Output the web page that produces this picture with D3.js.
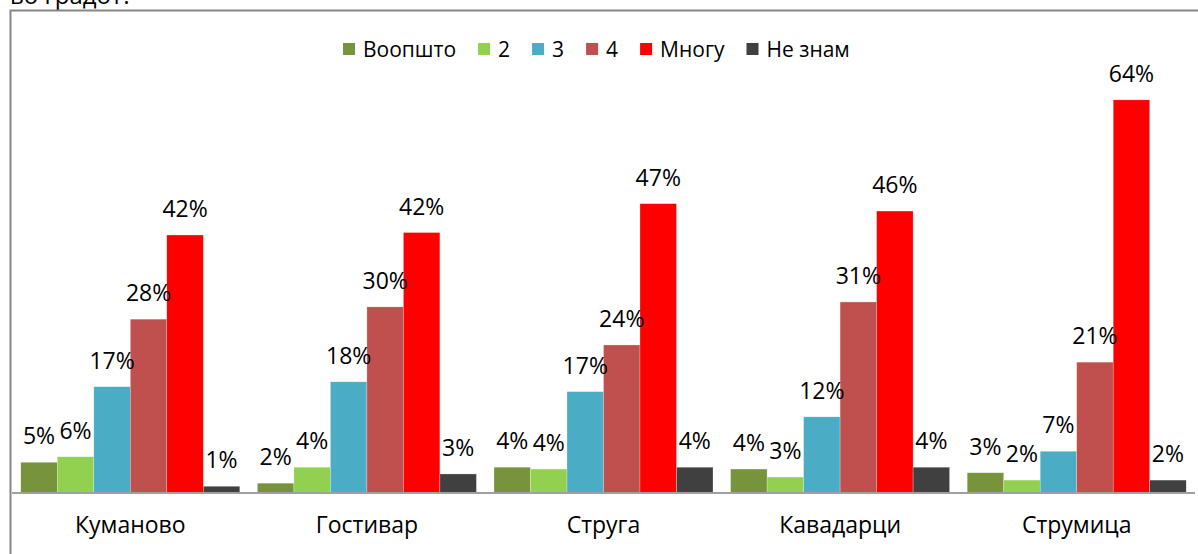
<!DOCTYPE html>
<html>
<head>
<meta charset="utf-8">
<script src="https://cdn.jsdelivr.net/npm/d3@7"></script>
<style>
  body { margin: 0; background: #fff; }
  svg { display: block; font-family: "Open Sans", "Noto Sans", sans-serif; }
</style>
</head>
<body>
<div id="graph"></div>
<script>
const width = 1198, height = 554;

const cities = ["Куманово", "Гостивар", "Струга", "Кавадарци", "Струмица"];
const seriesNames = ["Воопшто", "2", "3", "4", "Многу", "Не знам"];
const colors = ["#77933C", "#92D050", "#4BACC6", "#C0504D", "#FF0000", "#404040"];

// values per series, in order of cities (%)
const vVoopsto = [5.0, 1.6, 4.2, 3.9, 3.3];
const vTwo = [5.9, 4.2, 3.9, 2.6, 2.1];
const vThree = [17.3, 18.1, 16.5, 12.4, 6.8];
const vFour = [28.3, 30.3, 24.1, 31.1, 21.3];
const vMnogu = [42.0, 42.4, 47.1, 45.9, 64.0];
const vNeZnam = [1.1, 3.1, 4.2, 4.2, 2.1];

const seriesValues = [vVoopsto, vTwo, vThree, vFour, vMnogu, vNeZnam];

const plotLeft = 12, plotRight = 1195, baseY = 493, topY = 63;

let svg = d3.select("#graph").append("svg")
  .attr("width", width)
  .attr("height", height);

// title (its last line is cut off at the top, as in the source)
svg.append("text")
  .attr("x", 10)
  .attr("y", 4)
  .attr("font-size", 24)
  .attr("fill", "#000")
  .text("во градот?");

// chart frame
svg.append("path")
  .attr("d", "M10.5," + height + " V10.5 H" + width)
  .attr("fill", "none")
  .attr("stroke", "#868686")
  .attr("stroke-width", 2);

const x0 = d3.scaleBand()
  .domain(cities)
  .range([plotLeft, plotRight])
  .paddingInner(0.0744)
  .paddingOuter(0.0372);

const x1 = d3.scaleBand()
  .domain(seriesNames)
  .range([0, x0.bandwidth()]);

const y = d3.scaleLinear()
  .domain([0, 70])
  .range([baseY, topY]);

const rows = [];
cities.forEach((c, ci) => {
  seriesNames.forEach((s, si) => {
    rows.push({city: c, series: s, value: seriesValues[si][ci], color: colors[si]});
  });
});

svg.selectAll("rect.bar")
  .data(rows)
  .enter()
  .append("rect")
  .attr("class", "bar")
  .attr("x", d => x0(d.city) + x1(d.series))
  .attr("y", d => y(d.value))
  .attr("width", x1.bandwidth())
  .attr("height", d => baseY - y(d.value))
  .attr("fill", d => d.color)
  .attr("stroke", "#ffffff")
  .attr("stroke-opacity", 0.5)
  .attr("stroke-width", 0.5);

svg.selectAll("text.lbl")
  .data(rows)
  .enter()
  .append("text")
  .attr("class", "lbl")
  .attr("x", d => x0(d.city) + x1(d.series) + x1.bandwidth() / 2)
  .attr("y", d => y(d.value) - 18)
  .attr("text-anchor", "middle")
  .attr("font-size", 23)
  .attr("fill", "#000")
  .text(d => Math.round(d.value) + "%");

// category axis
const xAxis = d3.axisBottom(x0).tickSize(0).tickPadding(19);
const gx = svg.append("g")
  .attr("transform", "translate(0," + baseY + ")")
  .call(xAxis);
gx.select(".domain").attr("stroke", "#A0A0A0").attr("stroke-width", 2)
  .attr("d", "M" + plotLeft + ",0H" + plotRight);
gx.selectAll(".tick text")
  .attr("font-size", 23)
  .attr("font-family", "'Open Sans', sans-serif")
  .attr("fill", "#000")
  .attr("dy", "0.9em");

// legend
const legend = svg.append("g").attr("transform", "translate(343,0)");
let lx = 0;
seriesNames.forEach((s, i) => {
  legend.append("rect")
    .attr("x", lx)
    .attr("y", 43)
    .attr("width", 12)
    .attr("height", 12)
    .attr("fill", colors[i]);
  const t = legend.append("text")
    .attr("x", lx + 20)
    .attr("y", 57)
    .attr("font-size", 21)
    .attr("fill", "#000")
    .text(s);
  lx += 20 + t.node().getComputedTextLength() + 22;
});
</script>
</body>
</html>
